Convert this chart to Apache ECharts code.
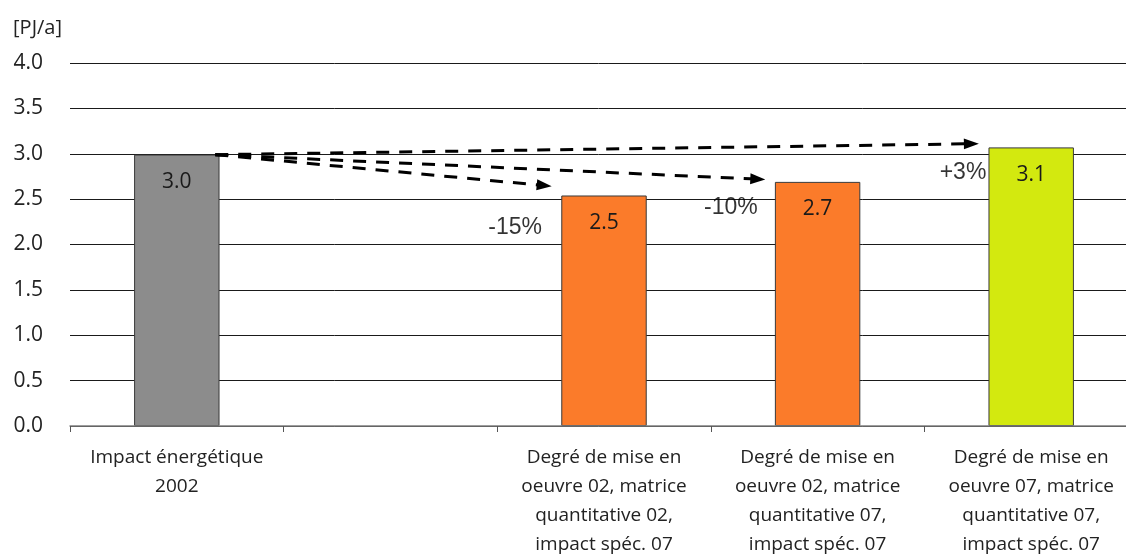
<!DOCTYPE html>
<html>
<head>
<meta charset="utf-8">
<title>Impact énergétique</title>
<script src="https://cdn.jsdelivr.net/npm/echarts@6/dist/echarts.min.js"></script>
<style>
  html, body { margin: 0; padding: 0; background: #fff; overflow: hidden; }
  #chart { width: 1126px; height: 554px; }
</style>
</head>
<body>
<div id="chart"></div>
<script>
// Categories (the second slot is intentionally left empty)
const categories = [
  'Impact énergétique\n2002',
  '',
  'Degré de mise en\noeuvre 02, matrice\nquantitative 02,\nimpact spéc. 07',
  'Degré de mise en\noeuvre 02, matrice\nquantitative 07,\nimpact spéc. 07',
  'Degré de mise en\noeuvre 07, matrice\nquantitative 07,\nimpact spéc. 07'
];

// Energy impact per scenario [PJ/a]
const values = [2.99, null, 2.54, 2.69, 3.07];
const barColors = ['#8c8c8c', null, '#fb7b2a', '#fb7b2a', '#d3e90f'];

// Comparison arrows: from the 2002 bar to each scenario
const arrowTargets = [2, 3, 4];            // category indices compared to the base
const arrowEndLevels = [2.65, 2.72, 3.11]; // where each arrow head points [PJ/a]
const pctLabelX = [2.21, 3.22, 4.29];      // right edge of the percentage text (category units)
const pctLabelY = [2.19, 2.41, 2.79];      // vertical centre of the percentage text [PJ/a]

const yTicks = { min: 0, max: 4, interval: 0.5 };

const base = values[0];
const pct = (v) => {
  const p = Math.round((v / base - 1) * 100);
  return (p > 0 ? '+' : '') + p + '%';
};

const chart = echarts.init(document.getElementById('chart'), null, { renderer: 'canvas' });

const barData = values.map((v, i) => v == null ? null : {
  value: v,
  itemStyle: { color: barColors[i] }
});

const arrowData = arrowTargets.map((t, i) => ({
  coords: [[0.68, base], [t + 0.22, arrowEndLevels[i]]]
}));

const pctData = arrowTargets.map((t, i) => ({
  value: [pctLabelX[i], pctLabelY[i]],
  name: pct(values[t])
}));

chart.setOption({
  animation: false,
  backgroundColor: '#ffffff',
  // the plot runs a little past the right edge of the canvas; keep the grid box as given
  grid: { left: 70, top: 63, width: 1068, height: 363, containLabel: false, outerBoundsMode: 'none' },
  xAxis: [
    {
      type: 'category',
      data: categories,
      boundaryGap: true,
      axisLine: { lineStyle: { color: '#7f7f7f', width: 1.5 } },
      axisTick: { show: true, alignWithLabel: false, length: 6, lineStyle: { color: '#555', width: 1 } },
      axisLabel: {
        interval: 0,
        margin: 17,
        fontFamily: 'Open Sans',
        fontSize: 19,
        lineHeight: 29,
        color: '#222',
        align: 'center'
      },
      splitLine: { show: false },
      z: 5
    },
    {
      type: 'value',
      min: 0,
      max: 5,
      show: false
    }
  ],
  yAxis: {
    type: 'value',
    min: yTicks.min,
    max: yTicks.max,
    interval: yTicks.interval,
    name: '[PJ/a]',
    nameLocation: 'end',
    nameGap: 25,
    nameTextStyle: {
      fontFamily: 'Open Sans',
      fontSize: 20,
      color: '#222',
      align: 'right',
      padding: [0, 8, 0, 0]
    },
    axisLine: { show: false },
    axisTick: { show: false },
    axisLabel: {
      margin: 27,
      fontFamily: 'Open Sans',
      fontSize: 21,
      color: '#222',
      formatter: (v) => v.toFixed(1)
    },
    splitLine: { show: true, lineStyle: { color: '#1a1a1a', width: 1 } }
  },
  series: [
    {
      type: 'bar',
      data: barData,
      barWidth: '40%',
      itemStyle: { borderColor: '#3a3a3a', borderWidth: 1 },
      label: {
        show: true,
        position: 'insideTop',
        distance: 17,
        fontFamily: 'Open Sans',
        fontSize: 21,
        color: '#1a1a1a',
        formatter: (p) => p.value.toFixed(1)
      },
      z: 3
    },
    {
      type: 'lines',
      coordinateSystem: 'cartesian2d',
      xAxisIndex: 1,
      yAxisIndex: 0,
      data: arrowData,
      symbol: ['none', 'triangle'],
      symbolSize: [0, [11, 15]],
      lineStyle: { color: '#000', width: 3, type: [13, 10], opacity: 1, curveness: 0 },
      z: 6,
      silent: true
    },
    {
      type: 'scatter',
      xAxisIndex: 1,
      yAxisIndex: 0,
      data: pctData,
      symbolSize: 0,
      label: {
        show: true,
        position: 'left',
        distance: 0,
        fontFamily: 'Liberation Sans',
        fontSize: 23,
        color: '#000',
        formatter: (p) => p.name
      },
      z: 6,
      silent: true
    }
  ]
});
</script>
</body>
</html>
